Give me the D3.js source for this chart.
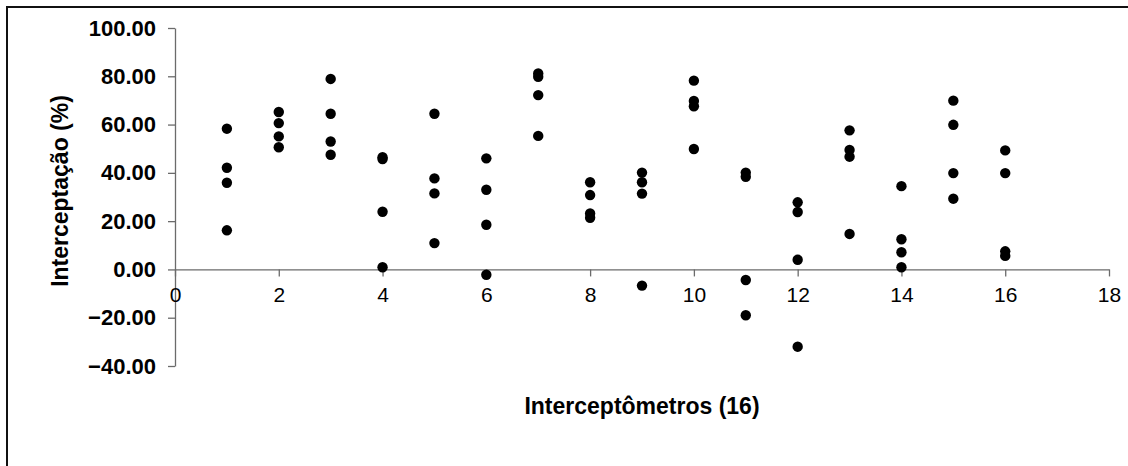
<!DOCTYPE html>
<html>
<head>
<meta charset="utf-8">
<script src="https://cdn.jsdelivr.net/npm/d3@7"></script>
<style>
  html, body { margin: 0; padding: 0; background: #fff; }
  svg { display: block; font-family: "Liberation Sans", Arial, sans-serif; }
</style>
</head>
<body>
<svg id="chart" width="1128" height="466"></svg>
<script>
// Interceptometer readings: four measurements per interceptometer (1..16)
const interceptometers = [1, 2, 3, 4, 5, 6, 7, 8, 9, 10, 11, 12, 13, 14, 15, 16];
const reading1 = [58.3, 65.2, 78.9, 46.5, 64.5, 46.0, 81.2, 36.1, 40.1, 78.2, 40.1, 27.8, 57.6, 34.5, 69.9, 49.3];
const reading2 = [42.1, 60.6, 64.5, 45.7, 37.7, 33.0, 79.8, 30.8, 36.1, 69.8, 38.4, 23.8, 49.5, 12.5, 59.9, 39.9];
const reading3 = [35.9, 55.1, 53.0, 23.9, 31.5, 18.5, 72.2, 23.2, 31.4, 67.6, -4.4, 4.0, 46.7, 7.1, 39.9, 7.5];
const reading4 = [16.2, 50.6, 47.5, 0.9, 10.9, -2.2, 55.3, 21.4, -6.7, 49.9, -19.0, -32.0, 14.7, 0.9, 29.3, 5.6];

const xTicks = [0, 2, 4, 6, 8, 10, 12, 14, 16, 18];
const yTicks = [-40, -20, 0, 20, 40, 60, 80, 100];

const points = [];
[reading1, reading2, reading3, reading4].forEach(series => {
  series.forEach((v, i) => points.push({ x: interceptometers[i], y: v }));
});

const svg = d3.select("#chart");

// Outer frame (top and left edges fall inside the canvas)
svg.append("rect")
  .attr("x", 7).attr("y", 7)
  .attr("width", 1140).attr("height", 480)
  .attr("fill", "none")
  .attr("stroke", "#111")
  .attr("stroke-width", 2);

const x = d3.scaleLinear().domain([0, 18]).range([175, 1109]);
const y = d3.scaleLinear().domain([-40, 100]).range([366, 28]);

const axisColor = "#6b6b6b";

// Y axis (left, bold labels with two decimals)
const yAxis = svg.append("g")
  .attr("transform", `translate(${x(0)},0)`)
  .call(d3.axisLeft(y).tickValues(yTicks).tickFormat(d3.format(".2f")).tickSize(7).tickSizeOuter(0).tickPadding(12));
yAxis.select(".domain").attr("stroke", axisColor).attr("stroke-width", 1.3);
yAxis.selectAll(".tick line").attr("stroke", axisColor).attr("stroke-width", 1.3);
yAxis.selectAll(".tick text")
  .attr("fill", "#000")
  .style("font-size", "22px")
  .style("font-weight", "bold");

// X axis drawn at y = 0
const xAxis = svg.append("g")
  .attr("transform", `translate(0,${y(0)})`)
  .call(d3.axisBottom(x).tickValues(xTicks).tickFormat(d3.format("d")).tickSize(7).tickSizeOuter(0).tickPadding(11));
xAxis.select(".domain").attr("stroke", axisColor).attr("stroke-width", 1.3);
xAxis.selectAll(".tick line").attr("stroke", axisColor).attr("stroke-width", 1.3);
xAxis.selectAll(".tick text")
  .attr("fill", "#000")
  .style("font-size", "21px");

// Scatter points
svg.append("g")
  .selectAll("circle")
  .data(points)
  .join("circle")
  .attr("cx", d => x(d.x))
  .attr("cy", d => y(d.y))
  .attr("r", 5.2)
  .attr("fill", "#000");

// Axis titles
svg.append("text")
  .attr("x", 642)
  .attr("y", 414)
  .attr("text-anchor", "middle")
  .style("font-size", "23px")
  .style("font-weight", "bold")
  .text("Interceptômetros (16)");

svg.append("text")
  .attr("transform", "translate(68,191) rotate(-90)")
  .attr("text-anchor", "middle")
  .style("font-size", "23px")
  .style("font-weight", "bold")
  .text("Interceptação (%)");
</script>
</body>
</html>
